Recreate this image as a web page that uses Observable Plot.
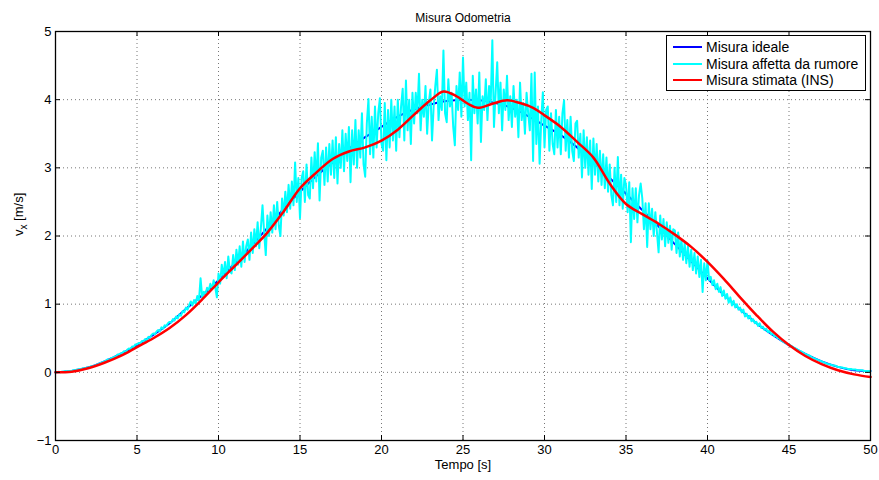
<!DOCTYPE html>
<html><head><meta charset="utf-8">
<script src="https://cdn.jsdelivr.net/npm/d3@7"></script>
<script src="https://cdn.jsdelivr.net/npm/@observablehq/plot@0.6"></script>
<style>
body{margin:0;background:#fff;font-family:"Liberation Sans",Arial,sans-serif}
#wrap{position:relative;width:879px;height:480px}
#legend{position:absolute;left:666px;top:35px;width:200px;height:56px;border:1px solid #000;background:#fff;box-sizing:border-box;font-size:14px;color:#000}
.row{position:absolute;left:0;height:16px;line-height:16px;white-space:nowrap}
.row i{position:absolute;left:6px;top:7px;width:29px;height:2px}
.row span{position:absolute;left:39px;top:0}
</style></head>
<body><div id="wrap"><div id="legend"></div></div>
<script>
// ---- data ----
const seriesNames = ["Misura ideale", "Misura affetta da rumore", "Misura stimata (INS)"];
const seriesColors = ["#0000FF", "#00FFFF", "#FF0000"];
const xTicks = [0, 5, 10, 15, 20, 25, 30, 35, 40, 45, 50];
const yTicks = [-1, 0, 1, 2, 3, 4, 5];

const idealT = [0,1,2,3,4,5,6,7,8,9,10,11,12,13,14,15,16,17,18,19,20,21,22,23,24,25,26,27,28,29,30,31,32,33,34,35,36,37,38,39,40,41,42,43,44,45,46,47,48,49,50];
const idealV = [0,0.02,0.07,0.16,0.27,0.4,0.55,0.72,0.93,1.13,1.35,1.6,1.85,2.12,2.4,2.65,2.88,3.08,3.28,3.45,3.6,3.75,3.86,3.93,3.98,4.0,3.99,3.95,3.88,3.76,3.62,3.48,3.3,3.08,2.85,2.62,2.38,2.14,1.88,1.63,1.38,1.14,0.92,0.72,0.55,0.4,0.27,0.16,0.08,0.03,0.02];

const insT = [0,1,2,3,4,5,6,7,8,9,10,11,12,13,14,15,16,17,18,19,20,21,22,23,23.8,24.6,25.3,25.9,26.8,27.7,28.5,29.3,30,31,32,33,34,35,36,37,38,39,40,41,42,43,44,45,46,47,48,49,50];
const insV = [0,0.01,0.06,0.14,0.24,0.37,0.5,0.65,0.84,1.07,1.32,1.56,1.8,2.05,2.36,2.7,2.93,3.13,3.24,3.3,3.4,3.56,3.78,3.99,4.12,4.05,3.94,3.88,3.94,3.99,3.95,3.88,3.77,3.6,3.38,3.15,2.77,2.47,2.32,2.18,2.02,1.84,1.62,1.37,1.1,0.84,0.6,0.4,0.24,0.12,0.03,-0.03,-0.07];

// noisy measurement, one sample every 0.1 s from 0 to 50 s (one row = 1 s)
const noisyStep = 0.1;
const noisyV = [
0.00,0.00,0.01,0.00,0.01,0.01,0.02,0.01,0.02,0.02,
0.02,0.03,0.03,0.04,0.04,0.05,0.05,0.06,0.06,0.07,
0.07,0.08,0.09,0.09,0.10,0.11,0.12,0.13,0.14,0.15,
0.16,0.17,0.19,0.18,0.21,0.21,0.23,0.23,0.26,0.26,
0.28,0.28,0.31,0.30,0.33,0.35,0.34,0.38,0.37,0.41,
0.41,0.43,0.42,0.46,0.45,0.49,0.47,0.52,0.51,0.55,
0.57,0.56,0.60,0.62,0.60,0.66,0.64,0.69,0.68,0.72,
0.74,0.73,0.78,0.76,0.82,0.79,0.85,0.83,0.90,0.88,
0.95,0.92,0.99,1.04,0.98,1.06,1.01,1.12,1.05,1.38,
1.10,1.18,1.15,1.24,1.20,1.30,1.22,1.35,1.25,1.10,
1.45,1.30,1.58,1.40,1.62,1.38,1.70,1.48,1.45,1.72,
1.50,1.80,1.58,1.85,1.55,1.92,1.62,1.85,1.95,1.65,
2.05,1.75,2.10,1.85,2.20,1.82,2.12,2.45,2.05,1.72,
2.30,2.00,2.35,2.05,2.45,2.10,2.50,2.15,2.00,2.55,
2.30,2.65,2.35,2.75,2.40,2.80,2.45,3.08,2.50,2.85,
2.26,2.85,2.95,2.50,3.05,2.60,2.55,3.15,2.70,3.23,
2.80,3.36,2.52,3.15,3.25,2.75,3.30,2.80,3.35,2.90,
3.40,2.85,3.45,2.77,3.35,3.00,3.55,2.95,3.50,3.10,
3.60,2.79,3.55,3.05,3.70,3.00,3.55,3.15,3.80,3.05,
2.87,3.65,4.01,3.20,3.75,3.15,3.90,3.30,3.80,4.02,
3.35,3.25,3.95,3.11,3.85,3.30,4.00,3.40,3.90,3.25,
4.00,3.45,3.90,4.16,3.40,4.28,3.55,4.00,3.35,4.10,
3.65,4.10,3.80,4.38,3.55,4.00,3.75,4.20,3.50,3.95,
4.15,3.40,3.90,4.20,4.44,3.70,4.05,3.85,4.72,3.80,
3.67,4.30,3.90,4.10,3.60,3.33,4.20,3.85,4.40,3.75,
4.62,3.90,4.25,3.70,4.10,3.11,4.35,3.80,4.15,3.65,
4.40,3.38,4.05,3.85,4.30,3.70,4.20,3.95,4.87,3.60,
4.10,4.55,3.80,4.25,3.55,4.15,3.85,4.35,3.70,4.05,
3.60,4.20,3.75,4.00,3.45,4.25,3.70,3.95,3.50,4.10,
3.80,3.55,4.38,3.10,4.40,3.35,3.90,3.06,3.70,4.11,
3.30,3.85,3.90,3.25,3.80,3.35,3.20,3.85,3.30,3.75,
3.20,3.80,3.99,3.25,3.70,3.15,3.75,3.25,3.10,3.65,
3.69,3.15,3.50,2.86,3.55,3.00,3.45,2.90,3.40,2.69,
3.43,2.90,3.35,2.80,3.25,2.75,3.20,2.70,3.15,2.65,
3.05,2.60,2.45,3.00,2.50,3.16,2.45,2.90,2.40,2.85,
2.75,2.35,2.79,1.91,2.70,2.25,2.70,2.20,2.60,2.77,
2.55,2.10,2.48,1.84,2.48,2.10,2.40,2.00,2.35,2.05,
1.76,2.30,1.95,2.25,1.85,2.20,1.90,2.15,1.80,2.10,
2.08,1.75,2.05,1.70,1.95,1.65,1.90,1.60,1.85,1.55,
1.80,1.50,1.75,1.45,1.70,1.40,1.65,1.18,1.60,1.35,
1.64,1.35,1.40,1.28,1.35,1.22,1.30,1.18,1.25,1.12,
1.20,1.08,1.15,1.02,1.10,0.98,1.05,0.95,1.00,0.92,
0.95,0.88,0.92,0.82,0.86,0.79,0.83,0.75,0.78,0.72,
0.74,0.68,0.72,0.65,0.67,0.62,0.64,0.59,0.61,0.56,
0.57,0.53,0.54,0.50,0.50,0.47,0.46,0.44,0.43,0.41,
0.41,0.39,0.38,0.36,0.35,0.34,0.32,0.31,0.30,0.28,
0.27,0.26,0.25,0.24,0.22,0.21,0.20,0.19,0.18,0.17,
0.16,0.15,0.14,0.13,0.12,0.12,0.11,0.10,0.10,0.09,
0.08,0.08,0.07,0.07,0.06,0.06,0.05,0.05,0.05,0.04,
0.04,0.04,0.03,0.03,0.03,0.03,0.02,0.02,0.02,0.02,
0.02];

const titleText = "Misura Odometria";
const xLabel = "Tempo [s]";

// ---- tables ----
const ideal = idealT.map((t, i) => ({t, v: idealV[i]}));
const ins = insT.map((t, i) => ({t, v: insV[i]}));
const noisy = noisyV.map((v, i) => ({t: +(i * noisyStep).toFixed(2), v}));

const W = 879, H = 480, mL = 55, mR = 9, mT = 31, mB = 40;
const fw = W - mL - mR, fh = H - mT - mB;
const font = "Liberation Sans, Arial, Helvetica, sans-serif";
const fmt = d => (d < 0 ? "\u2212" + (-d) : String(d));

const chart = Plot.plot({
  width: W, height: H, marginLeft: mL, marginRight: mR, marginTop: mT, marginBottom: mB,
  style: {fontFamily: font, fontSize: "13px", color: "#000", background: "#fff"},
  x: {domain: [0, 50]},
  y: {domain: [-1, 5]},
  marks: [
    Plot.ruleX(xTicks, {x: d => d, stroke: "#777", strokeWidth: 1, strokeDasharray: "1,3"}),
    Plot.ruleY(yTicks, {y: d => d, stroke: "#777", strokeWidth: 1, strokeDasharray: "1,3"}),
    Plot.line(ideal, {x: "t", y: "v", stroke: seriesColors[0], strokeWidth: 2, curve: "catmull-rom"}),
    Plot.line(noisy, {x: "t", y: "v", stroke: seriesColors[1], strokeWidth: 2}),
    Plot.line(ins, {x: "t", y: "v", stroke: seriesColors[2], strokeWidth: 2.5, curve: "catmull-rom"}),
    Plot.tickX(xTicks, {x: d => d, insetTop: fh - 5, stroke: "#000"}),
    Plot.tickX(xTicks, {x: d => d, insetBottom: fh - 5, stroke: "#000"}),
    Plot.tickY(yTicks, {y: d => d, insetRight: fw - 5, stroke: "#000"}),
    Plot.tickY(yTicks, {y: d => d, insetLeft: fw - 5, stroke: "#000"}),
    Plot.frame({stroke: "#000", strokeWidth: 1.3}),
    Plot.axisX(xTicks, {tickSize: 0, tickPadding: 4, label: null, fontSize: 13, tickFormat: fmt}),
    Plot.axisY(yTicks, {tickSize: 0, tickPadding: 4, label: null, fontSize: 13, tickFormat: fmt}),
    Plot.text([titleText], {text: d => d, frameAnchor: "top", dy: -18, fontSize: 12}),
    Plot.text([xLabel], {text: d => d, frameAnchor: "bottom", dy: 28, fontSize: 13}),
    Plot.text(["v"], {text: d => d, frameAnchor: "left", dx: -37, rotate: -90, fontSize: 13, className: "ylab"})
  ]
});

// y label with subscript
const yl = d3.select(chart).select("g.ylab text");
yl.text(null);
yl.append("tspan").text("v");
yl.append("tspan").attr("dy", 4).attr("font-size", 10).text("x");
yl.append("tspan").attr("dy", -4).text(" [m/s]");

document.getElementById("wrap").prepend(chart);

// legend
const leg = d3.select("#legend");
seriesNames.forEach((name, i) => {
  const r = leg.append("div").attr("class", "row").style("top", (3 + i * 16.5) + "px");
  r.append("i").style("background", seriesColors[i]);
  r.append("span").text(name);
});
</script>
</body></html>
